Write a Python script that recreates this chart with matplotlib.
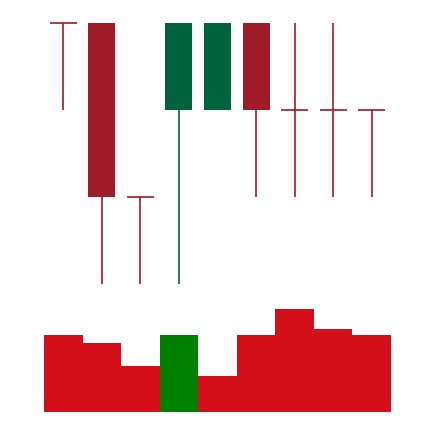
import matplotlib
matplotlib.use("Agg")
import matplotlib.pyplot as plt

# candle data (price levels)
opens  = [3, 3, 1, 2, 2, 3, 2, 2, 2]
closes = [3, 1, 1, 3, 3, 2, 2, 2, 2]
highs  = [3, 3, 1, 3, 3, 3, 3, 3, 2]
lows   = [2, 0, 0, 0, 2, 1, 1, 1, 1]
volumes = [77, 69, 46, 77, 36, 77, 103, 83, 77]

UP = "#006340"
DOWN = "#9e1b27"
VOL_UP = "#008000"
VOL_DOWN = "#d40f19"

W, H = 434, 422
fig = plt.figure(figsize=(W / 100, H / 100), dpi=100)

# price panel: levels 0..3 sit at pixel rows 284..23
pad = 0.2
unit = (284 - 23) / 3
top_px = 23 - pad * unit
bot_px = 284 + pad * unit
ax = fig.add_axes([44 / W, (H - bot_px) / H, 347 / W, (bot_px - top_px) / H])
ax.set_xlim(-0.5, 8.5)
ax.set_ylim(-pad, 3 + pad)
ax.axis("off")

bw = 0.7
for i in range(len(opens)):
    o, c, h, l = opens[i], closes[i], highs[i], lows[i]
    col = UP if c > o else DOWN
    ax.vlines(i, l, h, color=col, linewidth=1.2)
    if o == c:
        ax.hlines(o, i - bw / 2, i + bw / 2, color=col, linewidth=1.2)
    else:
        ax.bar(i, abs(c - o), bottom=min(o, c), width=bw, color=col, linewidth=0)

# volume panel, coloured by close vs previous close
vx = fig.add_axes([44 / W, (H - 412) / H, 347 / W, 103 / H])
vx.set_xlim(-0.5, 8.5)
vx.set_ylim(0, 103)
vx.axis("off")
vcols = [VOL_UP if i > 0 and closes[i] > closes[i - 1] else VOL_DOWN
         for i in range(len(volumes))]
vx.bar(range(len(volumes)), volumes, width=1.0, color=vcols, linewidth=0)

fig.savefig("out.png", dpi=100)
